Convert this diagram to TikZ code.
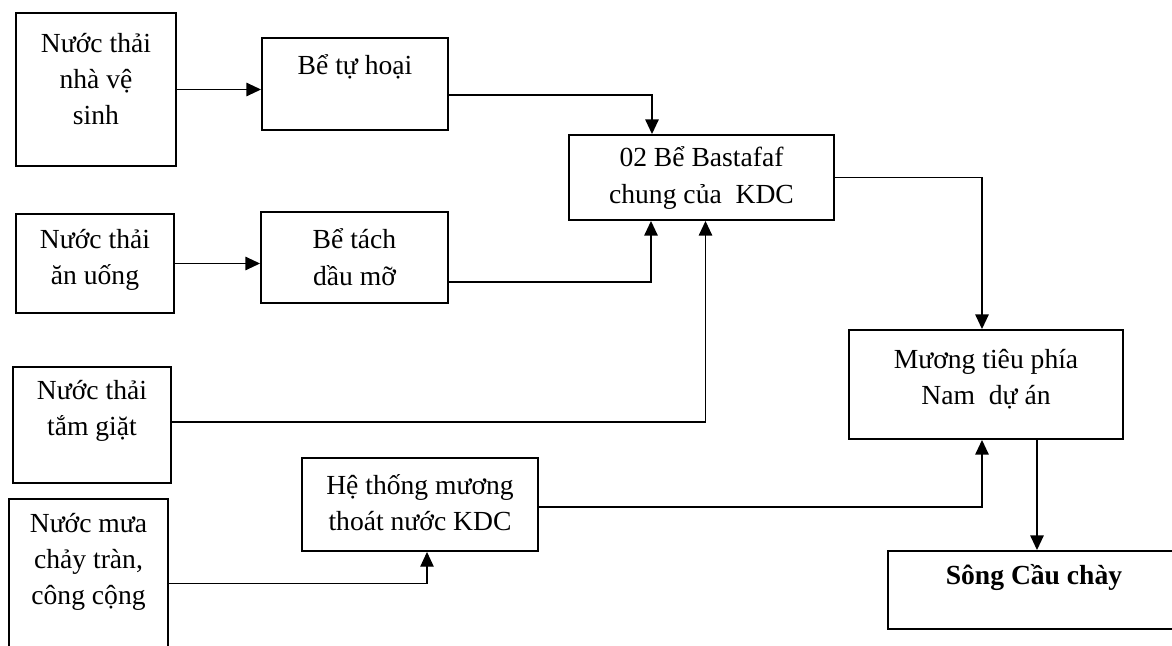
\documentclass[tikz,border=0pt]{standalone}
\usepackage{fontspec}
\setmainfont{Liberation Serif}
\usetikzlibrary{arrows.meta,calc}
\begin{document}
\begin{tikzpicture}[x=0.75pt,y=-0.75pt,
  box/.style={draw, rectangle, line width=1.4pt, inner sep=0pt},
  txt/.style={align=center, inner sep=0pt, font=\fontsize{20.7}{27.2}\selectfont},
  conn/.style={line width=1.3pt},
  thinconn/.style={line width=0.8pt},
  tip/.style={-{Triangle[length=11pt,width=10pt]}},
  arr/.style={conn, tip}]
\useasboundingbox (0,0) rectangle (1172,646);
\clip (0,0) rectangle (1172,646);
% boxes
\node[box, minimum width=120pt,    minimum height=114.75pt] (A) at (96,89.5) {};
\node[box, minimum width=139.5pt,  minimum height=69pt]     (B) at (355,84) {};
\node[box, minimum width=198.75pt, minimum height=63.75pt]  (C) at (701.5,177.5) {};
\node[box, minimum width=118.5pt,  minimum height=74.25pt]  (U) at (95,263.5) {};
\node[box, minimum width=140.25pt, minimum height=68.25pt]  (D) at (354.5,257.5) {};
\node[box, minimum width=118.5pt,  minimum height=87pt]     (E) at (92,425) {};
\node[box, minimum width=119.25pt, minimum height=150.75pt] (M) at (88.5,599.5) {};
\node[box, minimum width=177pt,    minimum height=69.75pt]  (G) at (420,504.5) {};
\node[box, minimum width=205.5pt,  minimum height=81.75pt]  (F) at (986,384.5) {};
\node[box, minimum width=234pt,    minimum height=58.5pt]   (H) at (1044,590) {};
% texts
\node[txt] (At) at (96,79) {Nước thải\\nhà vệ\\sinh};
\node[txt] (Bt) at (355,67) {Bể tự hoại};
\node[txt] (Ct) at (701.5,178) {02 Bể Bastafaf\\chung của~ KDC};
\node[txt] (Ut) at (95,260) {Nước thải\\ăn uống};
\node[txt] (Dt) at (354.5,257) {Bể tách\\dầu mỡ};
\node[txt] (Et) at (92,411) {Nước thải\\tắm giặt};
\node[txt] (Mt) at (88.5,562) {Nước mưa\\chảy tràn,\\công cộng};
\node[txt] (Gt) at (420,503) {Hệ thống mương\\thoát nước KDC};
\node[txt] (Ft) at (986,379) {Mương tiêu phía\\Nam~ dự án};
\node[txt, font=\fontsize{20.7}{27.2}\selectfont\bfseries] (Ht) at (1034,578) {Sông Cầu chày};
% connectors
\draw[arr] (A.east) -- (A.east -| B.west);
\draw[arr] (U.east) -- (U.east -| D.west);
\draw[arr] ($(B.east)+(0,11)$) -| ($(C.north)+(-49.5,0)$);
\draw[arr] ($(D.east)+(0,24.5)$) -| ($(C.south)+(-50.5,0)$);
\coordinate (e1) at ($(E.east)+(0,-3)$);
\coordinate (e2) at ($(e1)+(256,0)$);
\draw[thinconn] (e1) -- (e2);
\draw[arr] (e2) -| ($(C.south)+(4,0)$);
\draw[arr] (C.east) -| ($(F.north)+(-4,0)$);
\draw[arr] ($(G.east)+(0,2.5)$) -| ($(F.south)+(-4,0)$);
\draw[thinconn, tip] ($(M.north east)+(0,85)$) -| ($(G.south)+(7,0)$);
\coordinate (f1) at ($(F.south)+(51,0)$);
\draw[arr] (f1) -- (f1 |- H.north);
\end{tikzpicture}
\end{document}
